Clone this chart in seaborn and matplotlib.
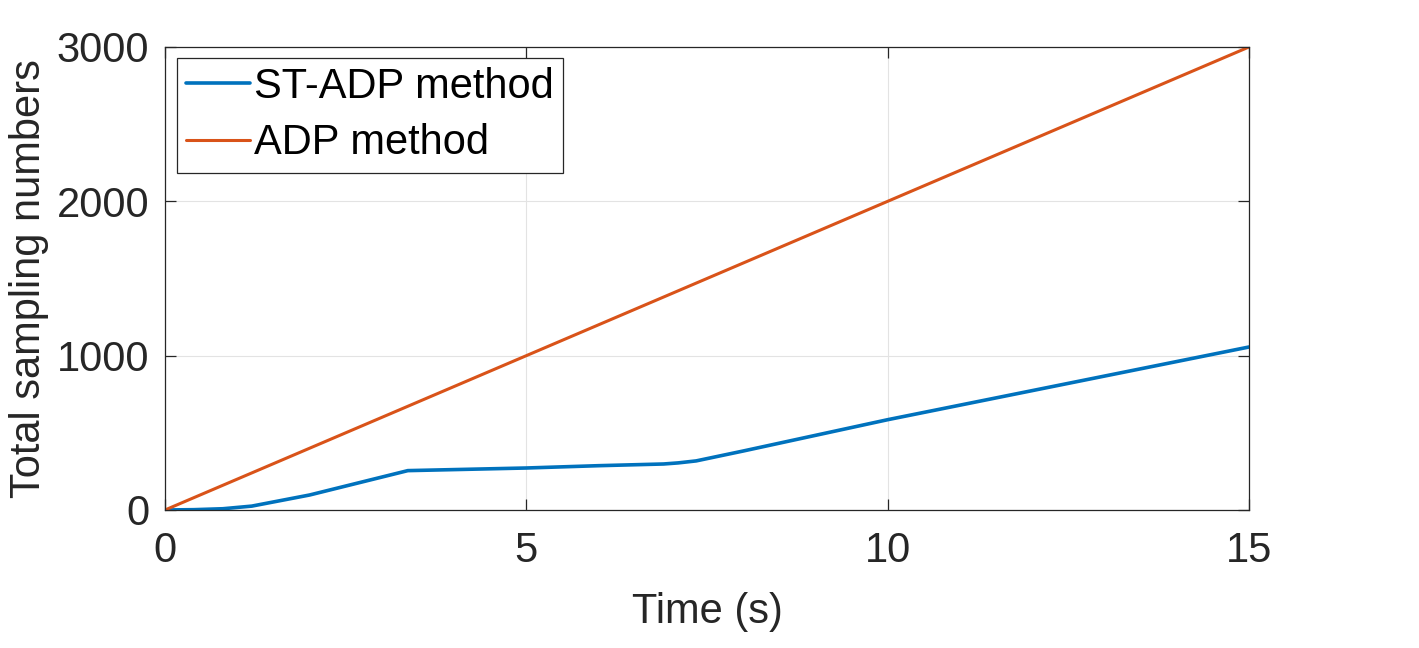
import numpy as np
import pandas as pd
import matplotlib
matplotlib.use("Agg")
import matplotlib.pyplot as plt
import seaborn as sns

# Data
st_time = [0, 0.4, 0.8, 1.2, 2.0, 3.36, 5.0, 6.0, 6.9, 7.1, 7.35, 8.0, 10.0, 15.0]
st_samples = [0, 2, 8, 25, 97, 255, 272, 287, 298, 305, 318, 382, 585, 1056]
adp_time = [0, 15]
adp_samples = [0, 3000]
series_labels = ["ST-ADP method", "ADP method"]
xticks = [0, 5, 10, 15]
yticks = [0, 1000, 2000, 3000]

sns.set_theme(style="whitegrid")
plt.rcParams['font.family'] = ['Liberation Sans', 'DejaVu Sans']

df = pd.concat([
    pd.DataFrame({"Time": st_time, "Samples": st_samples, "Method": series_labels[0]}),
    pd.DataFrame({"Time": adp_time, "Samples": adp_samples, "Method": series_labels[1]}),
])

fig = plt.figure(figsize=(14.19, 6.48), dpi=100)
ax = fig.add_axes([0.1163, 0.213, 0.7639, 0.7145])

sns.lineplot(data=df, x="Time", y="Samples", hue="Method", sort=False,
             palette=["#0072BD", "#D95319"], linewidth=2.4, ax=ax, estimator=None)
widths = {series_labels[0]: 2.6, series_labels[1]: 2.2}
for ln in ax.lines:
    lab = ln.get_label()
    if lab in widths:
        ln.set_linewidth(widths[lab])
if len(ax.lines) >= 2:
    ax.lines[0].set_linewidth(2.6)
    ax.lines[1].set_linewidth(2.2)

fs = 30
txt = "#262626"
ax.set_xlim(0, 15)
ax.set_ylim(0, 3000)
ax.set_xticks(xticks)
ax.set_yticks(yticks)
ax.set_facecolor("white")
ax.grid(True, color="#e3e3e3", linewidth=0.8)
for s in ax.spines.values():
    s.set_visible(True)
    s.set_color("#262626")
    s.set_linewidth(0.9)
ax.tick_params(axis="both", which="both", direction="in", length=8, width=0.9,
               color="#262626", labelsize=fs, labelcolor=txt,
               top=True, right=True, bottom=True, left=True)
ax.tick_params(axis="x", pad=15)
ax.tick_params(axis="y", pad=11.5)
ax.set_xlabel("Time (s)", fontsize=fs, color=txt, labelpad=15)
ax.set_ylabel("Total sampling numbers", fontsize=fs, color=txt, labelpad=5)

leg = ax.legend(loc="upper left", bbox_to_anchor=(0.0108, 0.977), borderaxespad=0,
                fontsize=fs, frameon=True, fancybox=False, framealpha=1,
                handlelength=1.53, handletextpad=0.1, labelspacing=0.4,
                borderpad=0.22, title=None)
leg.get_frame().set_edgecolor("#262626")
leg.get_frame().set_linewidth(0.9)
for t in leg.get_texts():
    t.set_color("black")
for h, w in zip(leg.get_lines(), [2.6, 2.2]):
    h.set_linewidth(w)

fig.savefig("out.png", dpi=100)
